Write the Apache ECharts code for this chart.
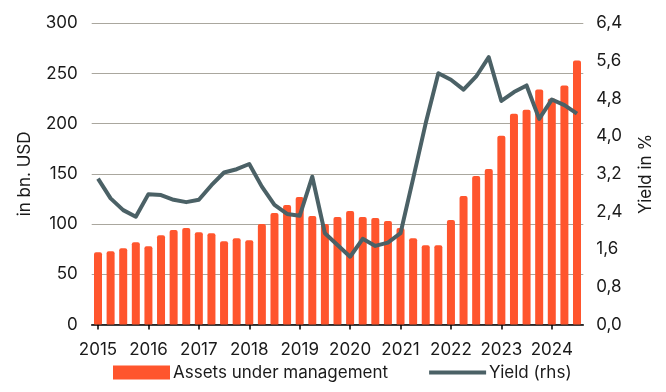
<!DOCTYPE html>
<html>
<head>
<meta charset="utf-8">
<script src="https://cdn.jsdelivr.net/npm/echarts@6/dist/echarts.min.js"></script>
<style>
html,body{margin:0;padding:0;background:#fff;}
#c{width:666px;height:392px;}
</style>
</head>
<body>
<div id="c"></div>
<script>
var quarters = [
  '2015Q1','2015Q2','2015Q3','2015Q4',
  '2016Q1','2016Q2','2016Q3','2016Q4',
  '2017Q1','2017Q2','2017Q3','2017Q4',
  '2018Q1','2018Q2','2018Q3','2018Q4',
  '2019Q1','2019Q2','2019Q3','2019Q4',
  '2020Q1','2020Q2','2020Q3','2020Q4',
  '2021Q1','2021Q2','2021Q3','2021Q4',
  '2022Q1','2022Q2','2022Q3','2022Q4',
  '2023Q1','2023Q2','2023Q3','2023Q4',
  '2024Q1','2024Q2','2024Q3'
];
var assets = [72, 73, 76, 82, 78, 89, 94, 96, 92, 91, 83, 86, 84, 100, 111, 119, 127, 108, 100, 107,
  113, 107, 106, 103, 96, 86, 79, 79, 104, 128, 148, 155, 188, 210, 214, 234, 225, 238, 263];
var yieldRhs = [3.10, 2.68, 2.43, 2.29, 2.77, 2.75, 2.65, 2.60, 2.65, 2.96, 3.23, 3.30, 3.41, 2.93,
  2.54, 2.35, 2.31, 3.14, 1.94, 1.69, 1.44, 1.82, 1.67, 1.74, 1.94, 3.10, 4.28, 5.34, 5.20, 4.99,
  5.27, 5.68, 4.75, 4.94, 5.08, 4.37, 4.78, 4.66, 4.48];
var leftTicks = [0, 50, 100, 150, 200, 250, 300];
var rightTicks = ['0,0','0,8','1,6','2,4','3,2','4,0','4,8','5,6','6,4'];

var FONT = 'Inter';
var TXT = '#1a1a1a';
var chart = echarts.init(document.getElementById('c'), null, {renderer: 'canvas'});
chart.setOption({
  animation: false,
  textStyle: {fontFamily: FONT},
  grid: {left: 91.7, right: 82.7, top: 23.3, bottom: 67.5, containLabel: false},
  legend: {
    top: 359, left: 108,
    itemWidth: 57, itemHeight: 14, itemGap: 39,
    textStyle: {fontFamily: FONT, fontSize: 17, color: TXT, padding: [0, 0, 0, -2]},
    data: [
      {name: 'Assets under management', icon: 'rect'},
      {name: 'Yield (rhs)', itemStyle: {opacity: 0}, lineStyle: {width: 4, color: '#4b6166'}}
    ]
  },
  xAxis: {
    type: 'category',
    data: quarters,
    boundaryGap: true,
    axisLine: {lineStyle: {color: '#000', width: 1.5}},
    axisTick: {show: true, interval: 3, alignWithLabel: true, length: 5, lineStyle: {color: '#000', width: 1.5}},
    axisLabel: {
      interval: 3, margin: 17, fontSize: 17, color: TXT, fontFamily: FONT,
      formatter: function (v) { return v.slice(0, 4); }
    },
    splitLine: {show: false}
  },
  yAxis: [
    {
      type: 'value', min: 0, max: 300, interval: 50,
      name: 'in bn. USD', nameLocation: 'middle', nameGap: 58, nameRotate: 90,
      nameTextStyle: {fontFamily: FONT, fontSize: 17, color: TXT},
      axisLine: {show: false}, axisTick: {show: false},
      axisLabel: {margin: 14, fontSize: 17, color: TXT, fontFamily: FONT},
      splitLine: {lineStyle: {color: '#aaa79e', width: 1}}
    },
    {
      type: 'value', min: 0, max: 6.4, interval: 0.8,
      name: 'Yield in %', nameLocation: 'middle', nameGap: 54, nameRotate: 90,
      nameTextStyle: {fontFamily: FONT, fontSize: 17, color: TXT},
      axisLine: {show: false}, axisTick: {show: false},
      axisLabel: {
        margin: 13, fontSize: 17, color: TXT, fontFamily: FONT,
        formatter: function (v) { return rightTicks[Math.round(v / 0.8)]; }
      },
      splitLine: {show: false}
    }
  ],
  series: [
    {
      name: 'Assets under management', type: 'bar', yAxisIndex: 0,
      data: assets, barWidth: 8,
      itemStyle: {color: '#ff552d', borderRadius: [2, 2, 1, 1]}
    },
    {
      name: 'Yield (rhs)', type: 'line', yAxisIndex: 1,
      data: yieldRhs, symbol: 'none', smooth: false,
      lineStyle: {color: '#4b6166', width: 4, join: 'round'},
      itemStyle: {color: '#4b6166'}
    }
  ]
});
</script>
</body>
</html>
